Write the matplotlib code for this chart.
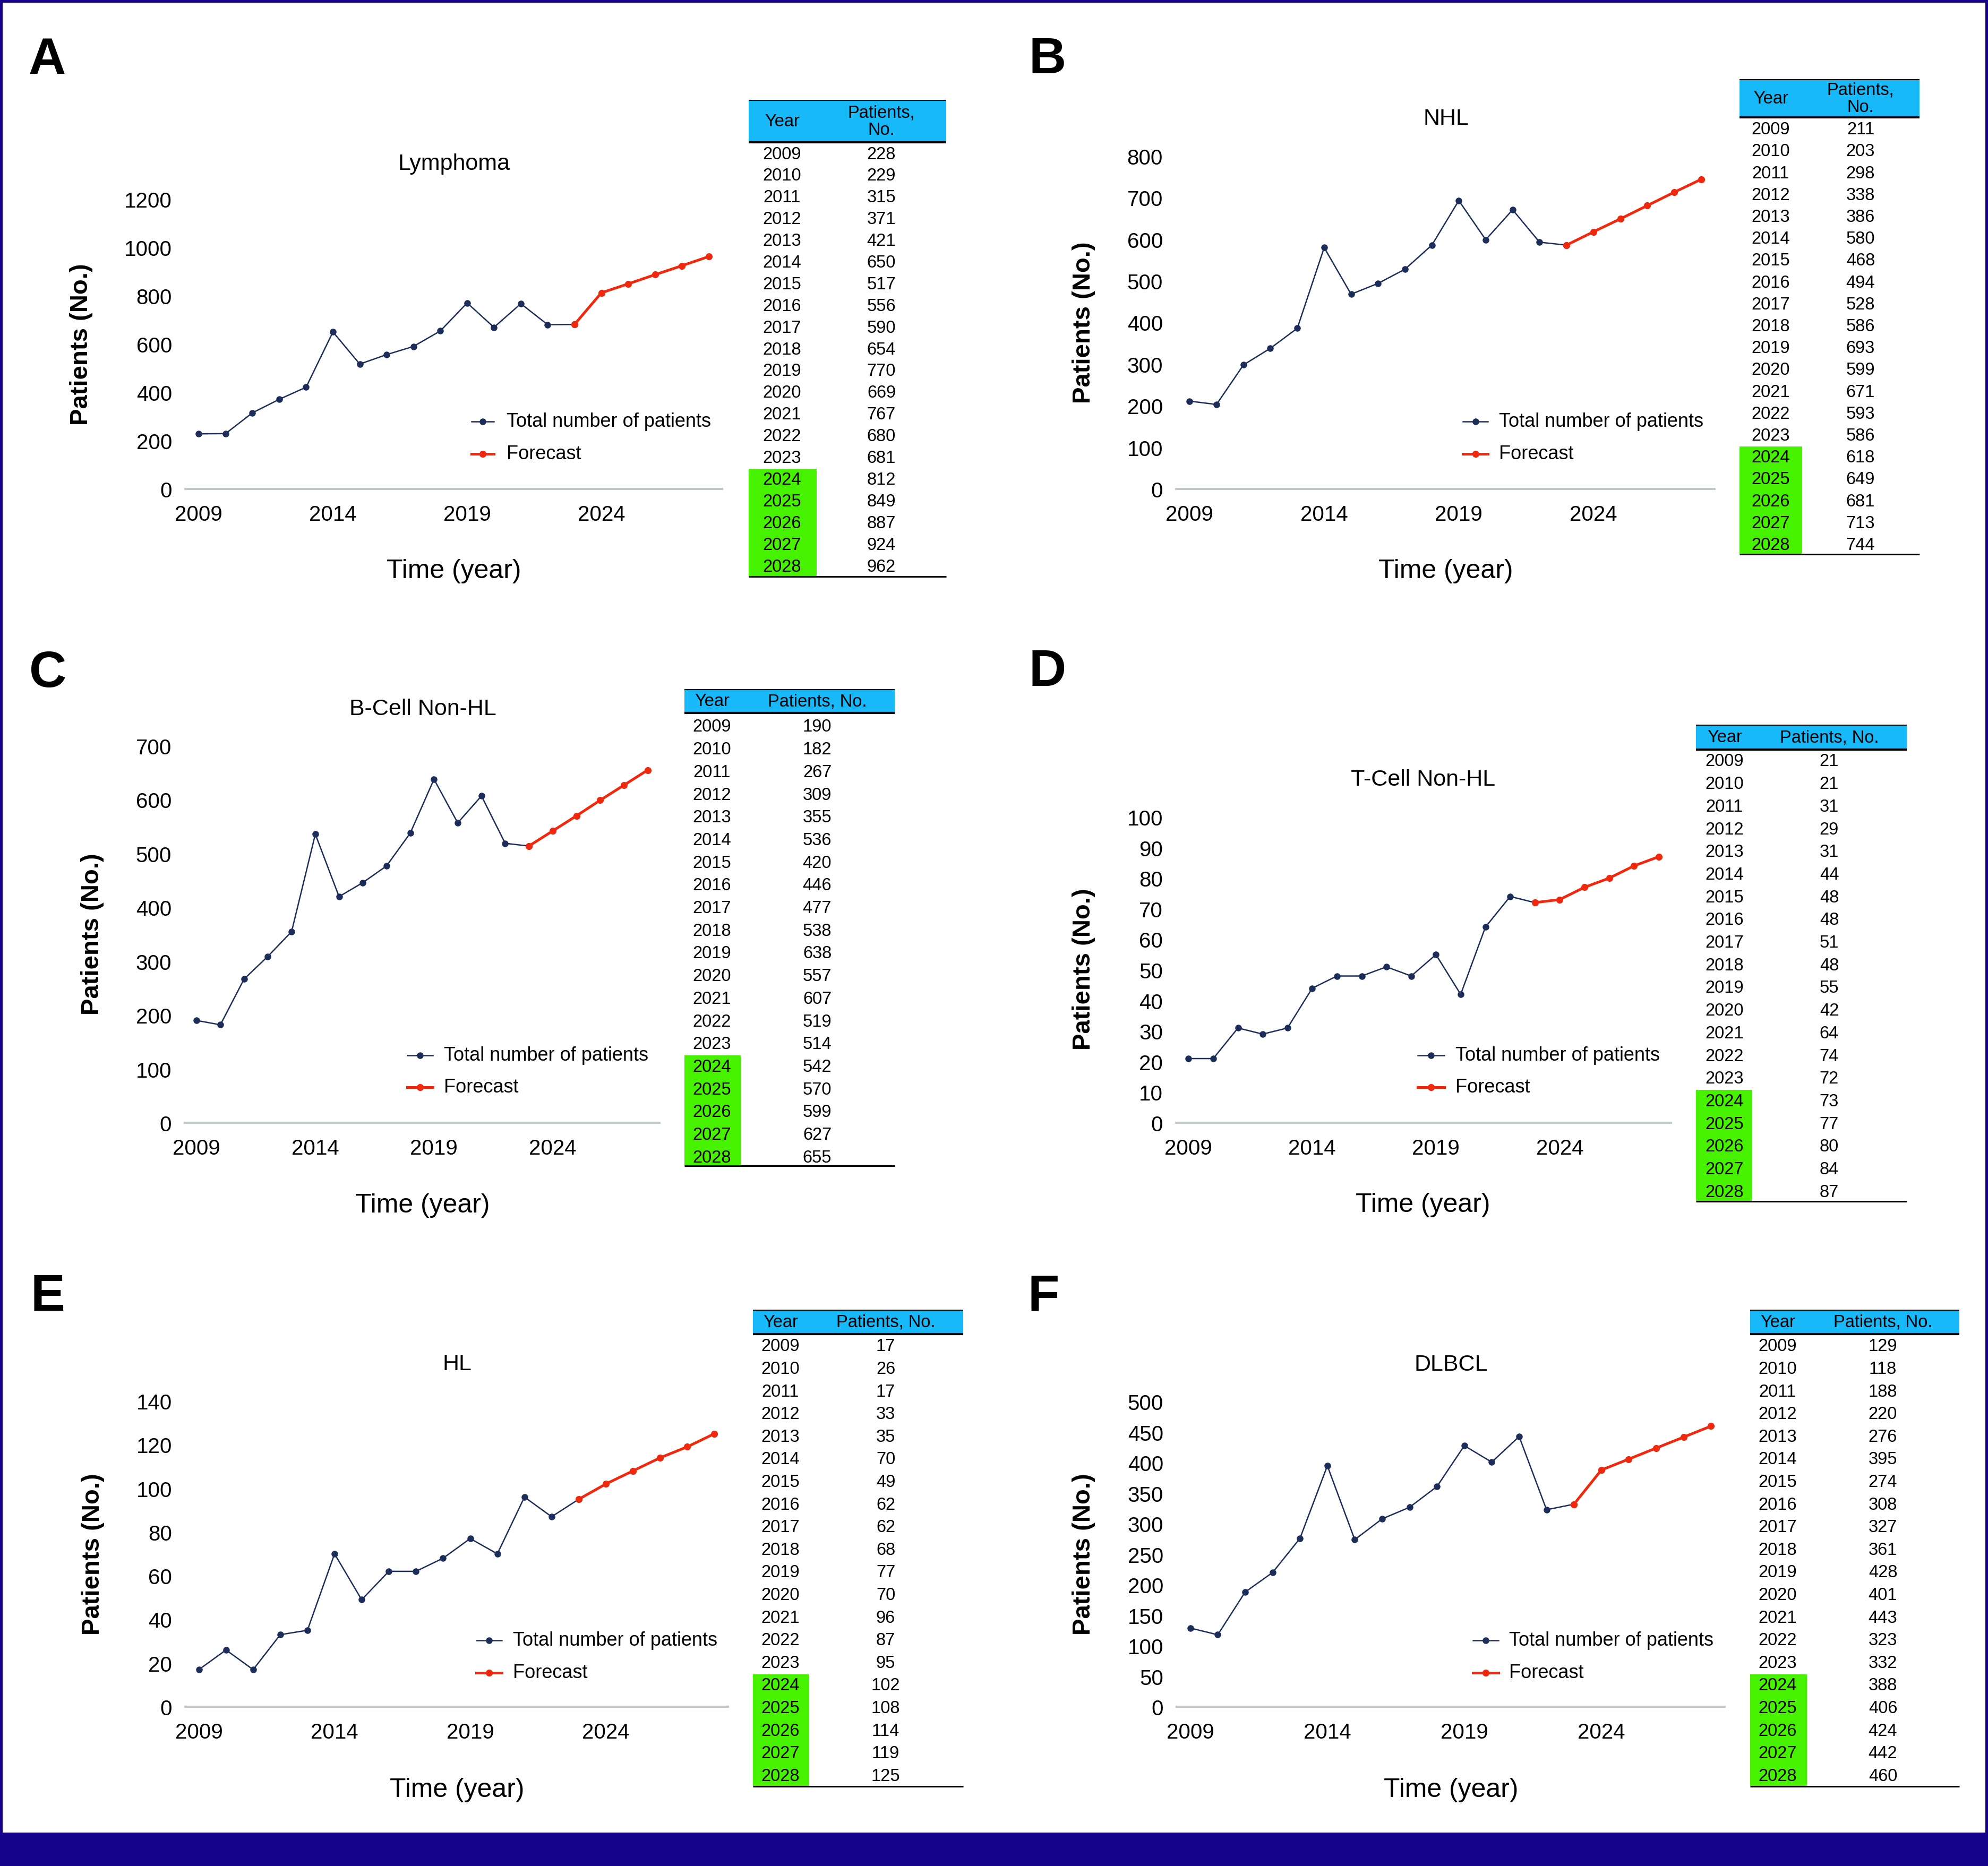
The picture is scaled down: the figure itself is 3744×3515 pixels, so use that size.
import matplotlib
matplotlib.use('Agg')
import matplotlib.pyplot as plt
from matplotlib.patches import Rectangle

W, H = 3744, 3516
DPI = 100

# ---------------- data ----------------
years = list(range(2009, 2029))
first_forecast_year = 2024
last_actual_year = 2023

lymphoma = [228, 229, 315, 371, 421, 650, 517, 556, 590, 654, 770, 669, 767, 680, 681, 812, 849, 887, 924, 962]
nhl = [211, 203, 298, 338, 386, 580, 468, 494, 528, 586, 693, 599, 671, 593, 586, 618, 649, 681, 713, 744]
bcell_nhl = [190, 182, 267, 309, 355, 536, 420, 446, 477, 538, 638, 557, 607, 519, 514, 542, 570, 599, 627, 655]
tcell_nhl = [21, 21, 31, 29, 31, 44, 48, 48, 51, 48, 55, 42, 64, 74, 72, 73, 77, 80, 84, 87]
hl = [17, 26, 17, 33, 35, 70, 49, 62, 62, 68, 77, 70, 96, 87, 95, 102, 108, 114, 119, 125]
dlbcl = [129, 118, 188, 220, 276, 395, 274, 308, 327, 361, 428, 401, 443, 323, 332, 388, 406, 424, 442, 460]

panel_letters = ['A', 'B', 'C', 'D', 'E', 'F']
panel_titles = ['Lymphoma', 'NHL', 'B-Cell Non-HL', 'T-Cell Non-HL', 'HL', 'DLBCL']
panel_series = [lymphoma, nhl, bcell_nhl, tcell_nhl, hl, dlbcl]
y_max = [1200, 800, 700, 100, 140, 500]
y_step = [200, 100, 100, 10, 20, 50]
x_ticks = [2009, 2014, 2019, 2024]
legend_labels = ['Total number of patients', 'Forecast']
x_label = 'Time (year)'
y_label = 'Patients (No.)'
header_year = 'Year'
header_patients = ['Patients,\nNo.', 'Patients,\nNo.', 'Patients, No.', 'Patients, No.', 'Patients, No.', 'Patients, No.']

# ---------------- layout (pixels) ----------------
layout = [
    dict(ax0=349, ax1=1360, ayb=922, ayt=376, title=(855, 309), xl=(855, 1076), yl=(153, 649), letter=(54, 139),
         lg=(888, 930, 954, 795, 856),
         t=(1410, 1782, 1538, 190, 269, 291, 40.9, 1087, 1473, 1660)),
    dict(ax0=2215, ax1=3229, ayb=922, ayt=295, title=(2723, 224), xl=(2723, 1076), yl=(2041, 608), letter=(1938, 138),
         lg=(2755, 2802, 2823, 795, 856),
         t=(3276, 3615, 3394, 150.5, 222, 244.6, 41.2, 1044.5, 3335, 3504)),
    dict(ax0=348, ax1=1242, ayb=2116, ayt=1406, title=(796, 1336), xl=(796, 2271), yl=(174, 1760), letter=(55, 1294),
         lg=(767, 815, 836, 1989, 2049),
         t=(1289, 1685, 1395, 1300, 1344, 1370, 42.7, 2197, 1341, 1539)),
    dict(ax0=2215, ax1=3147, ayb=2116, ayt=1540, title=(2680, 1469), xl=(2680, 2270), yl=(2041, 1826), letter=(1938, 1292),
         lg=(2670, 2720, 2741, 1989, 2049),
         t=(3194, 3591, 3300, 1367, 1412.5, 1435, 42.7, 2263.5, 3248, 3445)),
    dict(ax0=349, ax1=1371, ayb=3216, ayt=2640, title=(861, 2570), xl=(861, 3372), yl=(175, 2928), letter=(57, 2469),
         lg=(897, 945, 966, 3091, 3152),
         t=(1418, 1814, 1524, 2469, 2514, 2537, 42.6, 3366.5, 1470, 1668)),
    dict(ax0=2216, ax1=3248, ayb=3216, ayt=2641.5, title=(2733, 2571), xl=(2733, 3372), yl=(2041, 2928), letter=(1936, 2469),
         lg=(2774, 2822, 2842, 3091, 3152),
         t=(3296, 3690, 3403, 2469, 2514, 2537, 42.6, 3366.5, 3348, 3546)),
]

# ---------------- style ----------------
FONT = ['Liberation Sans', 'DejaVu Sans']
plt.rcParams['font.family'] = FONT
NAVY = '#1c2d5a'
RED = '#f0290e'
AXIS_GRAY = '#c2cac7'
BLUE = '#18b9f8'
GREEN = '#46f200'
FRAME = '#15048a'
TICK_FS = 29
TITLE_FS = 31
XLABEL_FS = 36
YLABEL_FS = 34
LEGEND_FS = 26
TABLE_FS = 23.5
LETTER_FS = 70

fig = plt.figure(figsize=(W / DPI, H / DPI), dpi=DPI)
fig.patch.set_facecolor('white')

bg = fig.add_axes([0, 0, 1, 1])
bg.set_xlim(0, W)
bg.set_ylim(H, 0)
bg.axis('off')

# frame
bg.add_patch(Rectangle((0, 0), W, 6, color=FRAME, lw=0))
bg.add_patch(Rectangle((0, 0), 5, H, color=FRAME, lw=0))
bg.add_patch(Rectangle((W - 5, 0), 5, H, color=FRAME, lw=0))
bg.add_patch(Rectangle((0, 3453), W, H - 3453, color=FRAME, lw=0))

n_actual = years.index(last_actual_year) + 1


def draw_table(L, values, header_p):
    x0, x1, gx1, ht, hb, r0, p, bot, ycx, pcx = L['t']
    bg.add_patch(Rectangle((x0, ht), x1 - x0, hb - ht, color=BLUE, lw=0))
    n_fc = sum(1 for y in years if y >= first_forecast_year)
    gtop = r0 + (len(years) - n_fc - 0.5) * p
    bg.add_patch(Rectangle((x0, gtop), gx1 - x0, bot - gtop, color=GREEN, lw=0))
    bg.plot([x0, x1], [ht, ht], color='#101010', lw=1.5, solid_capstyle='butt')
    bg.plot([x0, x1], [hb, hb], color='black', lw=3, solid_capstyle='butt')
    bg.plot([x0, x1], [bot, bot], color='black', lw=2.2, solid_capstyle='butt')
    hc = (ht + hb) / 2
    bg.text(ycx, hc, header_year, ha='center', va='center', fontsize=TABLE_FS, color='black')
    bg.text(pcx, hc, header_p, ha='center', va='center', fontsize=TABLE_FS, color='black',
            linespacing=1.05, multialignment='center')
    for i, (yr, v) in enumerate(zip(years, values)):
        yy = r0 + i * p
        bg.text(ycx, yy, str(yr), ha='center', va='center', fontsize=TABLE_FS, color='black')
        bg.text(pcx, yy, str(v), ha='center', va='center', fontsize=TABLE_FS, color='black')


for k in range(6):
    L = layout[k]
    vals = panel_series[k]
    ax = fig.add_axes([L['ax0'] / W, 1 - L['ayb'] / H, (L['ax1'] - L['ax0']) / W, (L['ayb'] - L['ayt']) / H])
    ax.patch.set_visible(False)
    ax.plot(years[:n_actual], vals[:n_actual], color=NAVY, lw=1.8, marker='o', ms=8, clip_on=False, zorder=3)
    ax.plot(years[n_actual - 1:], vals[n_actual - 1:], color=RED, lw=3.6, marker='o', ms=8.5, clip_on=False, zorder=4)
    ax.set_xlim(2008.5, 2028.5)
    ax.set_ylim(0, y_max[k])
    ax.set_yticks(list(range(0, y_max[k] + 1, y_step[k])))
    ax.set_xticks(x_ticks)
    ax.set_xticklabels([str(x) for x in x_ticks])
    for s in ['top', 'right', 'left']:
        ax.spines[s].set_visible(False)
    ax.spines['bottom'].set_color(AXIS_GRAY)
    ax.spines['bottom'].set_linewidth(3)
    ax.tick_params(axis='both', length=0, labelsize=TICK_FS, colors='black')
    ax.tick_params(axis='y', pad=18)
    ax.tick_params(axis='x', pad=21)

    # texts
    bg.text(L['title'][0], L['title'][1], panel_titles[k], ha='center', va='center', fontsize=TITLE_FS)
    bg.text(L['xl'][0], L['xl'][1], x_label, ha='center', va='center', fontsize=XLABEL_FS)
    bg.text(L['yl'][0], L['yl'][1], y_label, ha='center', va='center', rotation=90,
            fontsize=YLABEL_FS, fontweight='bold')
    bg.text(L['letter'][0], L['letter'][1], panel_letters[k], ha='left', va='baseline',
            fontsize=LETTER_FS, fontweight='bold')

    # legend
    hx0, hx1, tx, r1, r2 = L['lg']
    bg.plot([hx0, hx1], [r1, r1], color=NAVY, lw=1.8, marker=None)
    bg.plot([(hx0 + hx1) / 2], [r1], color=NAVY, marker='o', ms=8)
    bg.plot([hx0, hx1], [r2, r2], color=RED, lw=3.6)
    bg.plot([(hx0 + hx1) / 2], [r2], color=RED, marker='o', ms=8.5)
    bg.text(tx, r1, legend_labels[0], ha='left', va='center', fontsize=LEGEND_FS)
    bg.text(tx, r2, legend_labels[1], ha='left', va='center', fontsize=LEGEND_FS)

    draw_table(L, vals, header_patients[k])

fig.savefig('out.png', dpi=DPI, facecolor='white')
